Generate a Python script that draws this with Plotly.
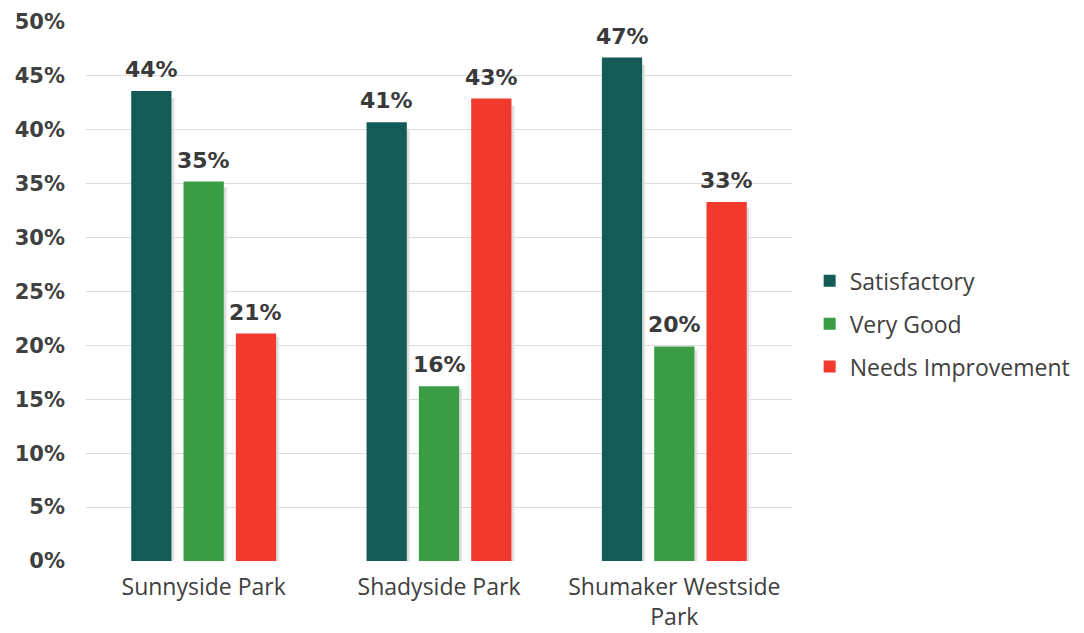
import plotly.graph_objects as go

categories = ["Sunnyside Park", "Shadyside Park", "Shumaker Westside<br>Park"]
satisfactory = [0.436, 0.407, 0.467]
very_good = [0.352, 0.162, 0.199]
needs_improvement = [0.211, 0.429, 0.333]
series_names = ["Satisfactory", "Very Good", "Needs Improvement"]
colors = ["#145B57", "#3A9D46", "#F2392E"]

FONT = "Open Sans"
BOLD = "DejaVu Sans"
W, H = 1068, 625
L, R, T, B = 78, 284, 14, 72
BARGAP, GROUPGAP = 0.333, 0.23

fig = go.Figure()
series = [satisfactory, very_good, needs_improvement]
for name, vals, col in zip(series_names, series, colors):
    fig.add_trace(go.Bar(
        name=name, x=categories, y=vals, legendgroup=name,
        marker=dict(color=col, line=dict(width=0)),
        hoverinfo="x+y",
    ))

cat_px = (W - L - R) / len(categories)
slot_px = cat_px * (1 - BARGAP) / len(series)
bar_px = slot_px * (1 - GROUPGAP)
for i, vals in enumerate(series):
    off = (i - (len(series) - 1) / 2) * slot_px
    for ci, (c, v) in enumerate(zip(categories, vals)):
        # soft shadow to the right of each bar
        for k, a in ((1, 0.10), (2, 0.06), (3, 0.03)):
            fig.add_shape(
                type="rect", xref="x", yref="y", xsizemode="pixel", xanchor=ci,
                x0=off + bar_px / 2, x1=off + bar_px / 2 + 1 + k,
                y0=0, y1=v * 0.985, line=dict(width=0),
                fillcolor=f"rgba(60,60,60,{a})", layer="below",
            )
        fig.add_annotation(
            x=c, y=v, xref="x", yref="y", text=f"{v:.0%}", showarrow=False,
            xshift=off, yshift=7, yanchor="bottom",
            font=dict(family=BOLD, size=22, color="#3A3A3A", weight="bold"),
        )

fig.update_layout(
    width=W, height=H,
    paper_bgcolor="white", plot_bgcolor="white",
    margin=dict(l=L, r=R, t=T, b=B, autoexpand=False),
    barmode="group", bargap=BARGAP, bargroupgap=GROUPGAP,
    font=dict(family=FONT, color="#404040"),
    legend=dict(x=1.025, y=0.44, yanchor="middle", xanchor="left",
                font=dict(size=23, color="#404040", family=FONT), traceorder="grouped",
                itemwidth=30, tracegroupgap=10),
    showlegend=True,
)
fig.update_yaxes(range=[0, 0.5], dtick=0.05, tickformat=".0%", showgrid=True,
                 gridcolor="#DCDCDC", gridwidth=1, zeroline=False, automargin=False,
                 tickfont=dict(size=21, color="#404040", weight="bold", family=BOLD),
                 ticklabelstandoff=20)
fig.update_xaxes(tickfont=dict(size=23, color="#404040", family=FONT), showline=False,
                 automargin=False, ticklabelstandoff=10)

fig.write_html("out.html")
